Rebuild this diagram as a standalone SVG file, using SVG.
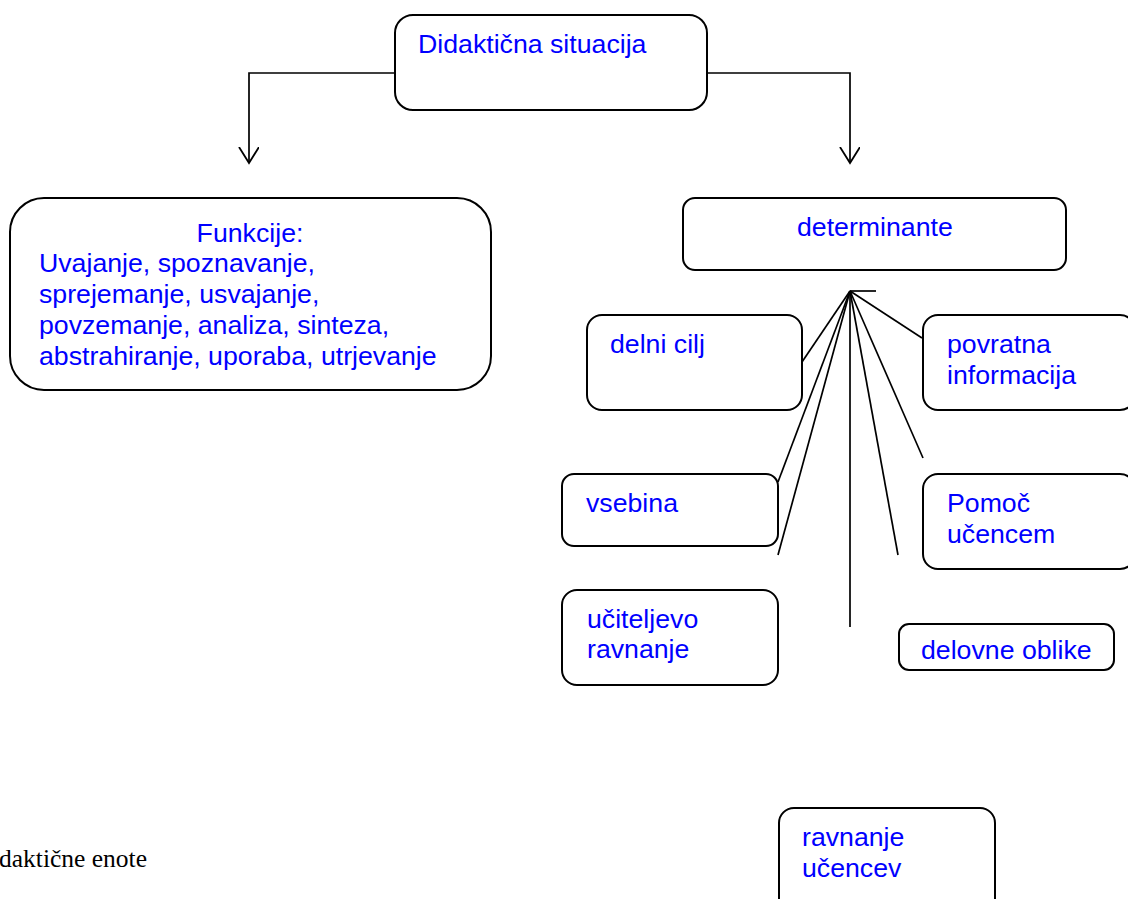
<svg xmlns="http://www.w3.org/2000/svg" width="1128" height="899" viewBox="0 0 1128 899">
  <defs>
    <style>
      .box { fill: #ffffff; stroke: #000000; stroke-width: 2; }
      .wire { fill: none; stroke: #000000; stroke-width: 1.7; }
      .lbl { font-family: "Liberation Sans", Arial, sans-serif; font-size: 26.7px; fill: #0000ff; }
      .note { font-family: "Liberation Serif", "Times New Roman", serif; font-size: 25.5px; fill: #000000; }
    </style>
    <marker id="vee" markerWidth="22" markerHeight="22" refX="16" refY="10" orient="auto" markerUnits="userSpaceOnUse">
      <path d="M0,0 L16,10 L0,20" fill="none" stroke="#000000" stroke-width="1.8"/>
    </marker>
  </defs>
  <rect width="1128" height="899" fill="#ffffff"/>

  <!-- connectors -->
  <g id="connectors">
    <polyline class="wire" points="395,73 249,73 249,163" marker-end="url(#vee)"/>
    <polyline class="wire" points="707,73 850,73 850,163" marker-end="url(#vee)"/>
    <!-- fan of determinants -->
    <line class="wire" x1="850" y1="291" x2="876" y2="291"/>
    <line class="wire" x1="850" y1="291" x2="802" y2="362"/>
    <line class="wire" x1="850" y1="291" x2="922" y2="338"/>
    <line class="wire" x1="850" y1="291" x2="778" y2="482"/>
    <line class="wire" x1="850" y1="291" x2="778" y2="555"/>
    <line class="wire" x1="850" y1="291" x2="850" y2="627"/>
    <line class="wire" x1="850" y1="291" x2="898" y2="555"/>
    <line class="wire" x1="850" y1="291" x2="923" y2="458"/>
  </g>

  <g id="node-situacija">
    <rect class="box" x="395" y="15" width="312" height="95" rx="18"/>
    <text class="lbl" x="418" y="53">Didaktična situacija</text>
  </g>

  <g id="node-funkcije">
    <rect class="box" x="10" y="198" width="481" height="192" rx="34"/>
    <text class="lbl" x="250" y="242" text-anchor="middle">Funkcije:</text>
    <text class="lbl" x="39" y="272">Uvajanje, spoznavanje,</text>
    <text class="lbl" x="39" y="303">sprejemanje, usvajanje,</text>
    <text class="lbl" x="39" y="334">povzemanje, analiza, sinteza,</text>
    <text class="lbl" x="39" y="365">abstrahiranje, uporaba, utrjevanje</text>
  </g>

  <g id="node-determinante">
    <rect class="box" x="683" y="198" width="383" height="72" rx="12"/>
    <text class="lbl" x="797" y="236">determinante</text>
  </g>

  <g id="node-delni-cilj">
    <rect class="box" x="587" y="315" width="215" height="95" rx="15"/>
    <text class="lbl" x="610" y="353">delni cilj</text>
  </g>

  <g id="node-povratna">
    <rect class="box" x="923" y="315" width="212" height="95" rx="15"/>
    <text class="lbl" x="947" y="353">povratna</text>
    <text class="lbl" x="947" y="384">informacija</text>
  </g>

  <g id="node-vsebina">
    <rect class="box" x="562" y="474" width="216" height="72" rx="12"/>
    <text class="lbl" x="586" y="512">vsebina</text>
  </g>

  <g id="node-pomoc">
    <rect class="box" x="923" y="474" width="212" height="95" rx="15"/>
    <text class="lbl" x="947" y="512">Pomoč</text>
    <text class="lbl" x="947" y="543">učencem</text>
  </g>

  <g id="node-uciteljevo">
    <rect class="box" x="562" y="590" width="216" height="95" rx="15"/>
    <text class="lbl" x="587" y="628">učiteljevo</text>
    <text class="lbl" x="587" y="658">ravnanje</text>
  </g>

  <g id="node-delovne">
    <rect class="box" x="899" y="624" width="215" height="46" rx="10"/>
    <text class="lbl" x="921" y="659">delovne oblike</text>
  </g>

  <g id="node-ravnanje-ucencev">
    <rect class="box" x="779" y="808" width="216" height="110" rx="15"/>
    <text class="lbl" x="802" y="846">ravnanje</text>
    <text class="lbl" x="802" y="877">učencev</text>
  </g>

  <text class="note" x="-1" y="867">daktične enote</text>
</svg>
